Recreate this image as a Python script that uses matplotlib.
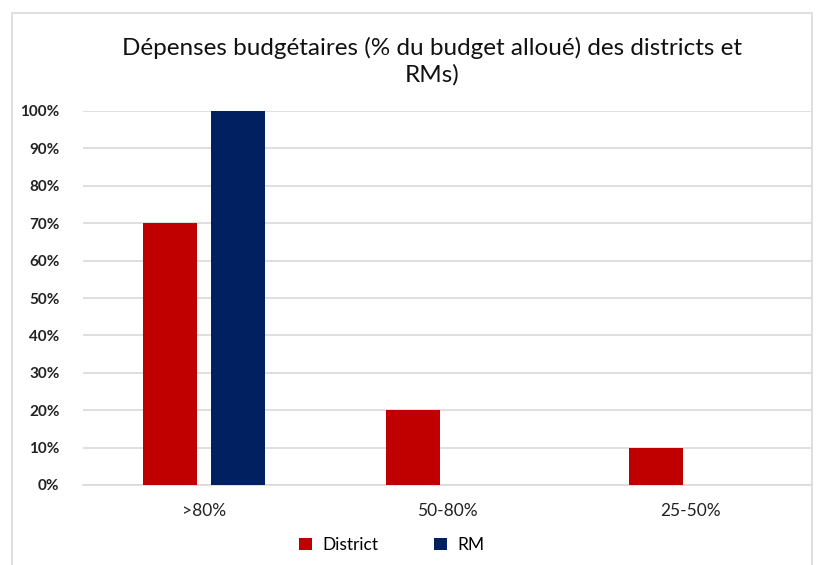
import matplotlib.pyplot as plt
import matplotlib.patches as mpatches
import numpy as np

categories = ['>80%', '50-80%', '25-50%']
district = [70, 20, 10]
rm = [100, 0, 0]
yticks = [0, 10, 20, 30, 40, 50, 60, 70, 80, 90, 100]

plt.rcParams['font.family'] = ['Lato', 'DejaVu Sans']

W, H = 817, 565
fig = plt.figure(figsize=(W / 100, H / 100), dpi=100)

# chart area border (bottom edge falls outside the picture)
fig.patches.append(mpatches.Rectangle((12 / W, -10 / H), 800 / W, (H - 13 + 10) / H,
                                      transform=fig.transFigure, fill=False,
                                      edgecolor='#D9D9D9', linewidth=1.2))

ax = fig.add_axes([83 / W, 1 - 485 / H, 729 / W, 374 / H])
x = np.arange(len(categories))
width = 0.222
ax.bar(x - 0.143, district, width, color='#C00000', label='District', zorder=3)
ax.bar(x + 0.138, rm, width, color='#002060', label='RM', zorder=3)

ax.set_xlim(-0.5, 2.5)
ax.set_ylim(0, 100)
ax.set_yticks(yticks)
ax.set_yticklabels([f'{v}%' for v in yticks], fontsize=11, fontweight='bold', color='#222222')
ax.set_xticks(x)
ax.set_xticklabels(categories, fontsize=12.5, color='#222222')
ax.tick_params(axis='both', length=0)
ax.tick_params(axis='y', pad=17)
ax.tick_params(axis='x', pad=13)
ax.grid(axis='y', color='#D9D9D9', linewidth=1.2, zorder=0)
for s in ['top', 'right', 'left']:
    ax.spines[s].set_visible(False)
ax.spines['bottom'].set_color('#D9D9D9')
ax.spines['bottom'].set_linewidth(1.2)

fig.text(432 / W, 1 - 61 / H, 'Dépenses budgétaires (% du budget alloué) des districts et\nRMs)',
         ha='center', va='center', fontsize=17.5, linespacing=1.3, color='#111111')

ax.legend(loc='center', bbox_to_anchor=(392 / W, 1 - 545 / H), bbox_transform=fig.transFigure,
          ncol=2, frameon=False, fontsize=12.5, handlelength=0.75, handleheight=0.75,
          columnspacing=3.2, handletextpad=0.6)

fig.savefig('out.png', dpi=100)
